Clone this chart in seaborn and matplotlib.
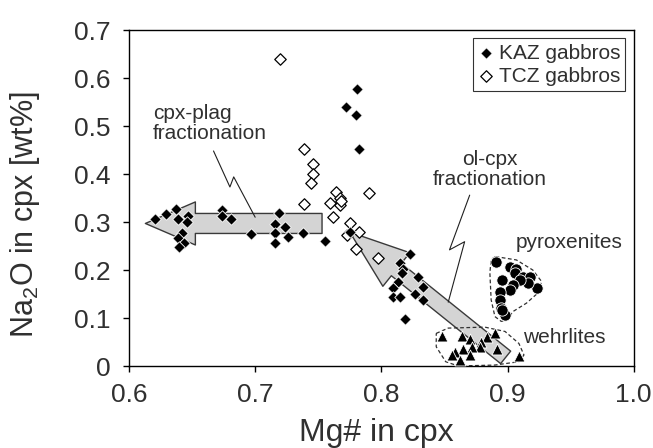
import numpy as np
import pandas as pd
import matplotlib
matplotlib.use("Agg")
import matplotlib.pyplot as plt
from matplotlib.patches import Polygon
import seaborn as sns

# ---------------- data ----------------
kaz_x = [0.621, 0.629, 0.637, 0.639, 0.647, 0.646, 0.642, 0.639, 0.644, 0.640,
         0.674, 0.674, 0.681, 0.697, 0.719, 0.716, 0.724, 0.716, 0.726, 0.716,
         0.738, 0.755, 0.775, 0.781, 0.772, 0.780, 0.782, 0.823, 0.815, 0.817,
         0.816, 0.829, 0.813, 0.833, 0.809, 0.827, 0.833, 0.809, 0.815, 0.819]
kaz_y = [0.306, 0.316, 0.328, 0.306, 0.312, 0.299, 0.278, 0.266, 0.257, 0.247,
         0.324, 0.312, 0.306, 0.274, 0.319, 0.295, 0.290, 0.278, 0.268, 0.257,
         0.278, 0.260, 0.280, 0.577, 0.539, 0.523, 0.452, 0.233, 0.215, 0.203,
         0.194, 0.186, 0.176, 0.165, 0.162, 0.150, 0.138, 0.144, 0.144, 0.098]

tcz_x = [0.720, 0.739, 0.746, 0.746, 0.744, 0.739, 0.764, 0.767, 0.759, 0.767,
         0.768, 0.762, 0.790, 0.775, 0.773, 0.782, 0.780, 0.797]
tcz_y = [0.640, 0.452, 0.421, 0.401, 0.381, 0.337, 0.362, 0.349, 0.339, 0.335,
         0.344, 0.311, 0.360, 0.297, 0.273, 0.280, 0.243, 0.226]

pyx_x = [0.891, 0.902, 0.907, 0.906, 0.912, 0.918, 0.923, 0.916, 0.910, 0.904,
         0.896, 0.902, 0.894, 0.894, 0.895, 0.898, 0.896]
pyx_y = [0.217, 0.207, 0.203, 0.193, 0.186, 0.185, 0.163, 0.172, 0.179, 0.169,
         0.179, 0.158, 0.155, 0.138, 0.120, 0.106, 0.117]

weh_x = [0.848, 0.864, 0.870, 0.884, 0.890, 0.879, 0.878, 0.872, 0.865, 0.892,
         0.858, 0.870, 0.856, 0.862, 0.909]
weh_y = [0.063, 0.063, 0.056, 0.060, 0.069, 0.049, 0.040, 0.039, 0.035, 0.035,
         0.030, 0.023, 0.023, 0.013, 0.021]

x_ticks = [0.6, 0.7, 0.8, 0.9, 1.0]
x_tick_labels = ["0.6", "0.7", "0.8", "0.9", "1.0"]
y_ticks = [0.0, 0.1, 0.2, 0.3, 0.4, 0.5, 0.6, 0.7]
y_tick_labels = ["0", "0.1", "0.2", "0.3", "0.4", "0.5", "0.6", "0.7"]

# annotation geometry (data coordinates)
arrow1_tail, arrow1_tip = (0.753, 0.297), (0.613, 0.297)
arrow2_tail, arrow2_tip = (0.8985, 0.018), (0.775, 0.279)
leader1_x = [0.667, 0.680, 0.683, 0.700]
leader1_y = [0.448, 0.373, 0.394, 0.310]
leader2_x = [0.870, 0.854, 0.866, 0.853]
leader2_y = [0.356, 0.242, 0.259, 0.133]
pyx_outline = [(0.8905, 0.228), (0.907, 0.221), (0.920, 0.200), (0.927, 0.176),
               (0.924, 0.152), (0.915, 0.131), (0.904, 0.113), (0.900, 0.096),
               (0.895, 0.093), (0.890, 0.103), (0.887, 0.138), (0.886, 0.194),
               (0.887, 0.222)]
weh_outline = [(0.8435, 0.068), (0.853, 0.079), (0.882, 0.081), (0.898, 0.072),
               (0.909, 0.047), (0.913, 0.023), (0.909, 0.009), (0.890, 0.002),
               (0.861, 0.000), (0.851, 0.009), (0.8435, 0.040)]

# ---------------- style ----------------
sns.set_style("ticks")
plt.rcParams["font.family"] = ["Liberation Sans", "DejaVu Sans"]
plt.rcParams["mathtext.fontset"] = "custom"
plt.rcParams["mathtext.rm"] = "Liberation Sans"
txt_col = "#303030"

fig = plt.figure(figsize=(6.53, 4.48), dpi=100)
ax = fig.add_axes([0.1975, 0.183, 0.773, 0.75])

# arrows (behind markers)
ap = dict(mutation_scale=1, fc="#d4d4d4", ec="#3a3a3a", lw=1.0, shrinkA=0, shrinkB=0)
ax.annotate("", xy=arrow1_tip, xytext=arrow1_tail,
            arrowprops=dict(arrowstyle="simple,head_length=36,head_width=31,tail_width=14.4", **ap),
            zorder=1)
ax.annotate("", xy=arrow2_tip, xytext=arrow2_tail,
            arrowprops=dict(arrowstyle="simple,head_length=43,head_width=31,tail_width=11.5", **ap),
            zorder=1)

# leader lines
ax.plot(leader1_x, leader1_y, color="#202020", lw=0.8, zorder=2)
ax.plot(leader2_x, leader2_y, color="#202020", lw=0.8, zorder=2)

# dashed outlines
for pts in (pyx_outline, weh_outline):
    ax.add_patch(Polygon(pts, closed=True, fill=False, ls=(0, (3, 2)), lw=0.9,
                         ec="#303030", joinstyle="round", zorder=2))

# scatter points
df_k = pd.DataFrame({"x": kaz_x, "y": kaz_y})
df_t = pd.DataFrame({"x": tcz_x, "y": tcz_y})
df_p = pd.DataFrame({"x": pyx_x, "y": pyx_y})
df_w = pd.DataFrame({"x": weh_x, "y": weh_y})

sns.scatterplot(data=df_t, x="x", y="y", marker="D", s=34, color="white",
                edgecolor="black", linewidth=0.9, ax=ax, zorder=3, label="TCZ gabbros")
sns.scatterplot(data=df_k, x="x", y="y", marker="D", s=34, color="black",
                edgecolor="white", linewidth=0.6, ax=ax, zorder=4, label="KAZ gabbros")
sns.scatterplot(data=df_p, x="x", y="y", marker="o", s=66, color="black",
                edgecolor="white", linewidth=0.6, ax=ax, zorder=4)
sns.scatterplot(data=df_w, x="x", y="y", marker="^", s=62, color="black",
                edgecolor="white", linewidth=0.6, ax=ax, zorder=4)

# text annotations
ax.text(0.619, 0.505, "cpx-plag\nfractionation", fontsize=15, color=txt_col,
        ha="left", va="center", linespacing=1.05)
ax.text(0.886, 0.410, "ol-cpx\nfractionation", fontsize=15, color=txt_col,
        ha="center", va="center", linespacing=1.05)
ax.text(0.949, 0.258, "pyroxenites", fontsize=15, color=txt_col, ha="center", va="center")
ax.text(0.945, 0.060, "wehrlites", fontsize=15, color=txt_col, ha="center", va="center")

# axes
ax.set_xlim(0.6, 1.0)
ax.set_ylim(0.0, 0.7)
ax.set_xticks(x_ticks)
ax.set_xticklabels(x_tick_labels)
ax.set_yticks(y_ticks)
ax.set_yticklabels(y_tick_labels)
ax.tick_params(axis="both", direction="out", length=4.5, width=1, colors="black",
               labelcolor=txt_col, labelsize=19)
ax.tick_params(axis="y", pad=9)
ax.tick_params(axis="x", pad=8)
for s in ax.spines.values():
    s.set_visible(True)
    s.set_color("black")
    s.set_linewidth(1.0)
ax.set_xlabel("Mg# in cpx", fontsize=23, color=txt_col)
ax.set_ylabel(r"Na$_\mathregular{2}$O in cpx [wt%]", fontsize=22, color=txt_col)
ax.xaxis.set_label_coords(0.49, -0.155)
ax.yaxis.set_label_coords(-0.172, 0.45)

h, l = ax.get_legend_handles_labels()
order = [l.index("KAZ gabbros"), l.index("TCZ gabbros")]
leg = ax.legend([h[i] for i in order], [l[i] for i in order], loc="upper right",
                fontsize=15, frameon=True, fancybox=False, edgecolor="black",
                handletextpad=0.2, handlelength=0.8, borderpad=0.25, labelspacing=0.2,
                borderaxespad=0.4)
leg.get_frame().set_linewidth(0.8)
for t in leg.get_texts():
    t.set_color(txt_col)

fig.savefig("out.png", dpi=100)
